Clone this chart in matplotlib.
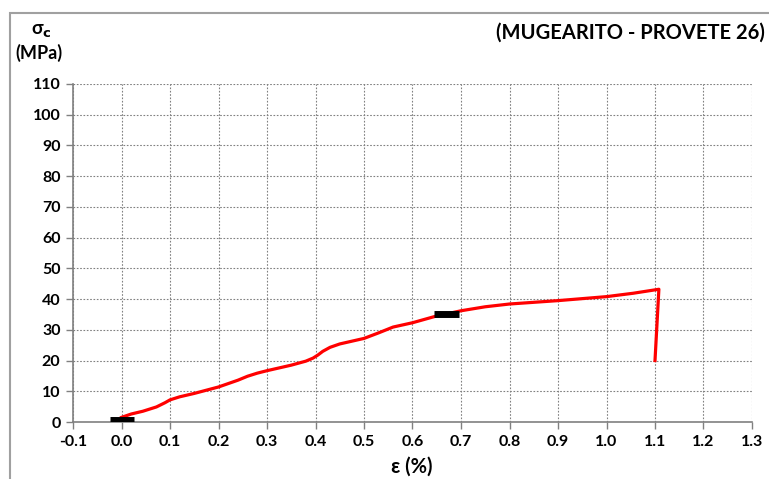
import matplotlib
matplotlib.use("Agg")
import matplotlib.pyplot as plt
from matplotlib.patches import Rectangle

# stress-strain curve, uniaxial compression
strain = [0.0, 0.02, 0.044, 0.072, 0.09, 0.1, 0.12, 0.15, 0.2, 0.24, 0.26, 0.28,
          0.3, 0.35, 0.38, 0.395, 0.405, 0.415, 0.43, 0.45, 0.5, 0.53, 0.56,
          0.6, 0.645, 0.7, 0.75, 0.8, 0.9, 1.0, 1.055, 1.108, 1.10]
stress = [1.5, 2.6, 3.5, 4.9, 6.3, 7.2, 8.2, 9.3, 11.4, 13.6, 14.9, 15.9,
          16.7, 18.5, 19.8, 20.8, 21.8, 23.0, 24.3, 25.4, 27.2, 29.0, 30.9,
          32.3, 34.3, 36.2, 37.5, 38.4, 39.5, 40.8, 41.9, 43.2, 20.0]

# short black markers
mark_x = [[-0.023, 0.026], [0.645, 0.695]]
mark_y = [[0.5, 0.5], [35.0, 35.0]]

xticks = [round(-0.1 + 0.1 * i, 1) for i in range(15)]
yticks = list(range(0, 111, 10))

plt.rcParams['font.family'] = ['Lato', 'DejaVu Sans']
plt.rcParams['font.weight'] = 'bold'

fig = plt.figure(figsize=(7.69, 4.79), dpi=100)
ax = fig.add_axes([73 / 769, 1 - 422 / 479, (752 - 73) / 769, (422 - 84) / 479])

# outer frame
fig.patches.append(Rectangle((10 / 769, -0.1), 1.2, 1 - 13 / 479 + 0.1,
                             transform=fig.transFigure, fill=False,
                             edgecolor='#a0a0a0', lw=1.5))

ax.plot(strain, stress, color='#ff0000', lw=2.3, zorder=3,
        solid_joinstyle='round')
for mx, my in zip(mark_x, mark_y):
    ax.plot(mx, my, color='black', lw=5, solid_capstyle='butt', zorder=4)

ax.set_xlim(-0.1, 1.3)
ax.set_ylim(0, 110)
ax.set_xticks(xticks)
ax.set_xticklabels([f"{v:.1f}" for v in xticks])
ax.set_yticks(yticks)

ax.grid(True, color='#808080', ls=(0, (1.5, 1.5)), lw=0.8)
for s in ['top', 'right']:
    ax.spines[s].set_visible(False)
for s in ['left', 'bottom']:
    ax.spines[s].set_color('#808080')
    ax.spines[s].set_linewidth(1.2)
ax.tick_params(direction='out', length=5, color='#808080', width=1,
               labelsize=11.5, pad=4)
for lbl in ax.get_xticklabels() + ax.get_yticklabels():
    lbl.set_fontweight('bold')

fig.text(41 / 769, 1 - 31 / 479, r'σ$_\mathbf{c}$', ha='center', va='center',
         fontsize=13.5, fontweight='bold')
fig.text(39 / 769, 1 - 53 / 479, '(MPa)', ha='center', va='center',
         fontsize=13, fontweight='bold')
fig.text(765 / 769, 1 - 33 / 479, '(MUGEARITO - PROVETE 26)', ha='right',
         va='center', fontsize=14.5, fontweight='bold')
fig.text(412 / 769, 1 - 467 / 479, 'ε (%)', ha='center', va='center',
         fontsize=14.5, fontweight='bold')

fig.savefig('out.png', dpi=100)
